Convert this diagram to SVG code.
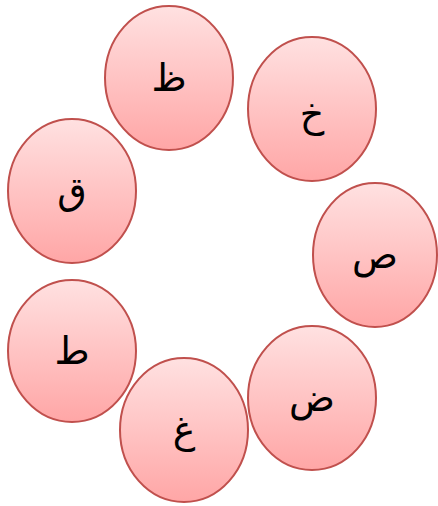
<svg xmlns="http://www.w3.org/2000/svg" width="438" height="506" viewBox="0 0 438 506">
<defs>
<linearGradient id="g" x1="0" y1="0" x2="0" y2="1">
<stop offset="0" stop-color="#ffe1e1"/>
<stop offset="1" stop-color="#ffa6a6"/>
</linearGradient>
<style>
.n ellipse{fill:url(#g);stroke:#c0504d;stroke-width:2}
.n text{font-family:"DejaVu Sans","Noto Sans",sans-serif;font-size:38px;fill:#000;text-anchor:middle;dominant-baseline:central}
</style>
</defs>
<rect width="438" height="506" fill="#fff"/>
<g id="connectors"></g>
<g id="n-zah" class="n"><ellipse cx="169" cy="78" rx="64" ry="72"/><text x="169" y="78">ظ</text></g>
<g id="n-kha" class="n"><ellipse cx="312" cy="109" rx="64" ry="72"/><text x="312" y="114">خ</text></g>
<g id="n-qaf" class="n"><ellipse cx="72" cy="191" rx="64" ry="72"/><text x="72" y="191">ق</text></g>
<g id="n-sad" class="n"><ellipse cx="375" cy="255" rx="62" ry="72"/><text x="375" y="255">ص</text></g>
<g id="n-tah" class="n"><ellipse cx="72" cy="351" rx="64" ry="71"/><text x="72" y="351">ط</text></g>
<g id="n-dad" class="n"><ellipse cx="312" cy="398" rx="64" ry="72"/><text x="312" y="398">ض</text></g>
<g id="n-ghain" class="n"><ellipse cx="184" cy="430" rx="64" ry="72"/><text x="184" y="430">غ</text></g>
</svg>
